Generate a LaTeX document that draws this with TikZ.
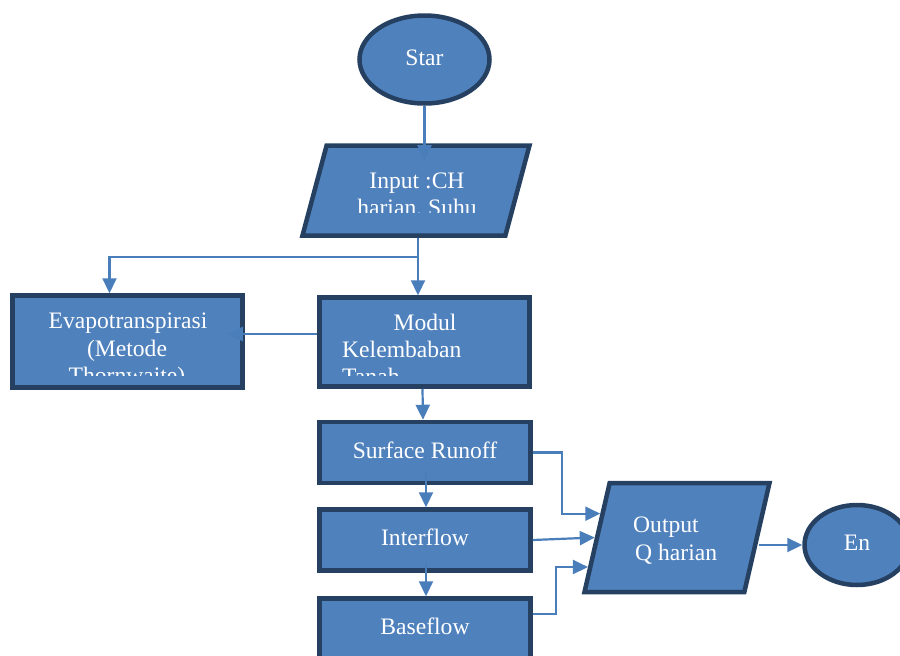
\documentclass[tikz,border=0pt]{standalone}
\usepackage{fontspec}
\setmainfont{Liberation Serif}
\usetikzlibrary{positioning, shapes.geometric, arrows.meta, calc}
\definecolor{boxblue}{HTML}{4F81BD}
\definecolor{edgeblue}{HTML}{254061}
\definecolor{lineblue}{HTML}{4A7EBB}
\tikzset{
	box/.style={draw=edgeblue, line width=4.5pt, fill=boxblue, text=white, inner sep=0pt, font=\fontsize{23.6}{27}\selectfont, text height=16pt, text depth=5pt},
	process/.style={box, rectangle},
	terminal/.style={box, ellipse},
	io/.style={box, trapezium, trapezium stretches body=true},
	% loose text lines inside the boxes
	boxtext/.style={text=white, inner sep=0pt, anchor=base, font=\fontsize{23.6}{27}\selectfont},
	flow/.style={lineblue, line width=2.2pt, -{Triangle[length=15pt,width=14pt]}},
}

\begin{document}
\begin{tikzpicture}[x=1pt, y=-1pt]
	\clip (0,0) rectangle (900,656);
	
	\node (start) [terminal, minimum width=130pt, minimum height=88pt] at (424.5,59.5) {Star};
	\node (inp) [io, trapezium left angle=75, trapezium right angle=105, inner ysep=34.5pt, minimum width=227pt] at (416,190.5) {};
	\node (evap) [process, minimum width=230pt, minimum height=92pt] at (127.5,341.5) {};
	\node (modul) [process, minimum width=210pt, minimum height=89pt] at (424.5,342) {};
	\node (surf) [process, minimum width=211pt, minimum height=61pt] at (425,452.5) {Surface Runoff};
	\node (intf) [process, minimum width=211pt, minimum height=61pt] at (425,540) {Interflow};
	\node (base) [process, minimum width=211pt, minimum height=61pt] at (425,629) {Baseflow};
	\node (outp) [io, trapezium left angle=77, trapezium right angle=103, inner ysep=44pt, minimum width=185pt] at (677,537.5) {};
	\node (en) [terminal, minimum width=105pt, minimum height=80pt] at (857,545) {En};
	
	% text lines, the last ones cut off by the box
	\node (inptxt) [boxtext] at (417,188) {Input :CH};
	\begin{scope}
		\clip (300,190) rectangle (530,212);
		\node (inptxt2) [boxtext] at (417,215) {harian, Suhu};
	\end{scope}
	\node (evaptxt) [boxtext] at (128,328) {Evapotranspirasi};
	\node (evaptxt2) [boxtext] at (127,356) {(Metode};
	\begin{scope}
		\clip (12,360) rectangle (243,375);
		\node (evaptxt3) [boxtext] at (127,383) {Thornwaite)};
	\end{scope}
	\node (modtxt) [boxtext] at (425,330) {Modul};
	\node (modtxt2) [boxtext, anchor=base west] at (342,357) {Kelembaban};
	\begin{scope}
		\clip (320,360) rectangle (530,375);
		\node (modtxt3) [boxtext, anchor=base west] at (342,384) {Tanah};
	\end{scope}
	\node (outtxt) [boxtext, anchor=base west] at (633,532) {Output};
	\node (outtxt2) [boxtext, anchor=base west] at (635,560) {Q harian};
	
	\coordinate (split) at (418,257);
	
	\draw [flow, shorten >=-17pt] (start.south) -- (start.south |- inp.north);
	\draw [flow] ([xshift=2pt]inp.south) -- ([xshift=2pt]inp.south |- modul.north);
	\draw [flow] (split) -| ([xshift=-18pt]evap.north);
	\draw [flow, shorten >=-17pt] ([yshift=8pt]modul.west) -- ([yshift=8pt]modul.west -| evap.east);
	\draw [flow] ([xshift=-2pt]modul.south) -- ([xshift=-2pt]surf.north);
	\draw [flow, shorten <=-14pt] ([xshift=1pt]surf.south) -- ([xshift=1pt]intf.north);
	\draw [flow, shorten <=-11pt] ([xshift=1pt]intf.south) -- ([xshift=1pt]base.north);
	\draw [flow] (surf.east) -- ++(29,0) |- ($(outp.bottom left corner)!0.71!(outp.top left corner)$);
	\draw [flow] (intf.east) -- (outp.west);
	\draw [flow] ([yshift=15pt]base.east) -- ++(23,0) |- ($(outp.bottom left corner)!0.24!(outp.top left corner)$);
	\draw [flow] (outp.east |- en.west) -- (en.west);
\end{tikzpicture}
\end{document}
